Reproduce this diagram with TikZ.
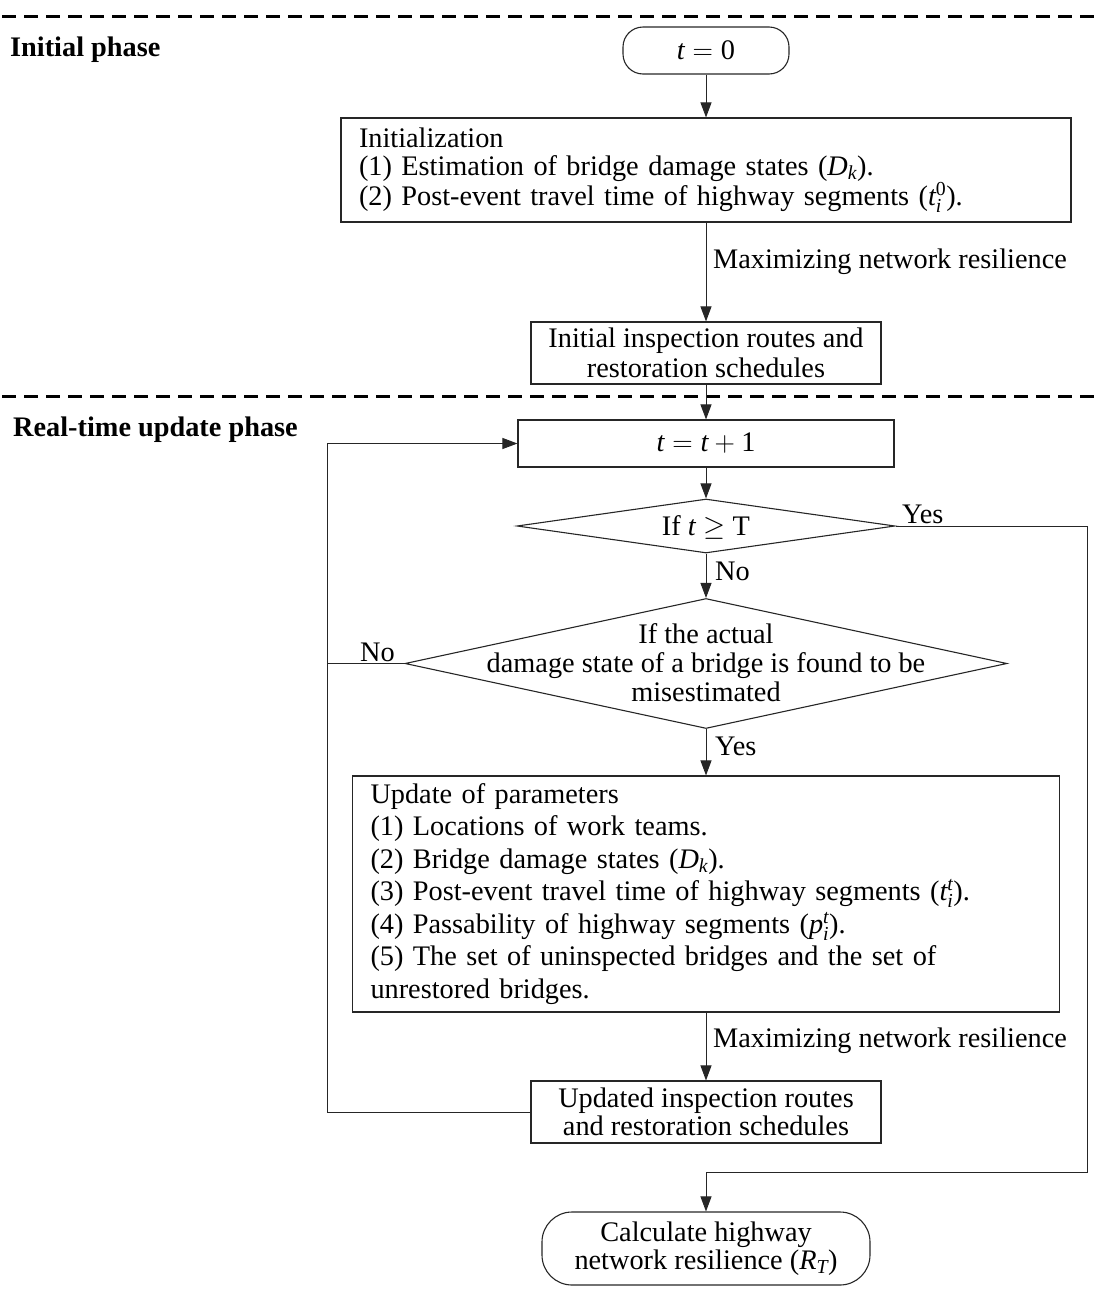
\documentclass[tikz,border=0pt]{standalone}
\usepackage{amsmath}
\usepackage{fontspec}
\setmainfont{Liberation Serif}
\usepackage{fix-cm}
\usetikzlibrary{shapes.geometric,arrows.meta}
\newcommand\fsz[2]{\fontsize{#1}{#2}\selectfont}
% variables and digits in the text face
\newcommand\vv[1]{\textit{#1}}
\newcommand\dd[1]{\textup{#1}}
\begin{document}
\begin{tikzpicture}[x=1pt,y=-1pt,
  every node/.style={font=\fsz{28.3}{29}},
  box/.style={draw=black!85,line width=1.1pt,rectangle,inner sep=0pt,align=center},
  term/.style={box,rounded corners=#1},
  dia/.style={draw=black!85,line width=1.1pt,diamond,inner sep=0pt},
  conn/.style={draw=black!85,line width=0.9pt},
  arr/.style={conn,-{Triangle[length=15pt,width=11pt]}},
  phase/.style={font=\bfseries\fsz{28.3}{29},inner sep=0pt},
  lab/.style={inner sep=0pt},
  sep/.style={line width=3pt,dash pattern=on 14pt off 8pt}
]
\useasboundingbox (0,0) rectangle (1097,1296);

% phase separators and titles
\draw[sep] (2,16) -- (1097,16);
\draw[sep] (2,396) -- (1097,396);
\node[phase,anchor=west] (ph1) at (10,50) {Initial phase};
\node[phase,anchor=west] (ph2) at (13,430) {Real-time update phase};

% initial phase
\node[term=20pt,minimum width=166pt,minimum height=47pt] (start) at (706,50.5) {$\vv{t}=\dd{0}$};
\node[box,align=left,text width=694pt,inner xsep=18pt,minimum height=104pt,font=\fsz{28.3}{28}] (init) at (706,170)
  {Initialization\\(1) Estimation of bridge damage states ($\vv{D}_{\vv{k}}$).\\(2) Post-event travel time of highway segments ($\vv{t}_{\vv{i}}^{\dd{0}}$).};
\node[box,minimum width=350pt,minimum height=62pt,font=\fsz{28.3}{30}] (iir) at (706,353)
  {Initial inspection routes and\\restoration schedules};

% real-time update phase
\node[box,minimum width=376pt,minimum height=47pt] (tp) at (706,443.5) {$\vv{t}=\vv{t}+\dd{1}$};
\node[dia,minimum width=378pt,minimum height=54pt] (d1) at (706,526) {};
\node[lab] (d1t) at (706,527) {If $\vv{t}\geq$ T};
\node[dia,minimum width=602pt,minimum height=130pt] (d2) at (706,663.5) {};
\node[lab,align=center] (d2t) at (706,663) {If the actual\\damage state of a bridge is found to be\\misestimated};
\node[box,align=left,text width=671pt,inner xsep=18pt,minimum height=236pt,font=\fsz{28.3}{32.5}] (upd) at (706,894)
  {Update of parameters\\(1) Locations of work teams.\\(2) Bridge damage states ($\vv{D}_{\vv{k}}$).\\(3) Post-event travel time of highway segments ($\vv{t}_{\vv{i}}^{\vv{t}}$).\\(4) Passability of highway segments ($\vv{p}_{\vv{i}}^{\vv{t}}$).\\(5) The set of uninspected bridges and the set of\\unrestored bridges.};
\node[box,minimum width=350pt,minimum height=62pt,font=\fsz{28.3}{28}] (uir) at (706,1112)
  {Updated inspection routes\\and restoration schedules};
\node[term=30pt,minimum width=328pt,minimum height=73pt,font=\fsz{28.3}{28}] (stop) at (706,1248.5)
  {Calculate highway\\network resilience ($\vv{R}_{\vv{T}}$)};

% connectors
\draw[arr] (start) -- (init);
\draw[arr] (init) -- (iir);
\draw[arr] (iir) -- (tp);
\draw[arr] (tp) -- (d1);
\draw[arr] (d1) -- (d2);
\draw[arr] (d2) -- (upd);
\draw[arr] (upd) -- (uir);

\coordinate (rc) at (1087,1172);
\draw[arr] (d1.east) -| (rc) -| (stop.north);
\coordinate (lc) at (327,1112);
\draw[arr] (uir.west) -- (lc) |- (tp.west);
\draw[conn] (d2.west) -- (d2.west -| lc);

% connector labels
\node[lab,anchor=west] (m1) at (713,262) {Maximizing network resilience};
\node[lab,anchor=west] (m2) at (713,1041) {Maximizing network resilience};
\node[lab,anchor=base west] (y1) at (902,523) {Yes};
\node[lab,anchor=base west] (n1) at (715,580) {No};
\node[lab,anchor=base east] (n2) at (395,661) {No};
\node[lab,anchor=base west] (y2) at (715,755) {Yes};
\end{tikzpicture}
\end{document}
